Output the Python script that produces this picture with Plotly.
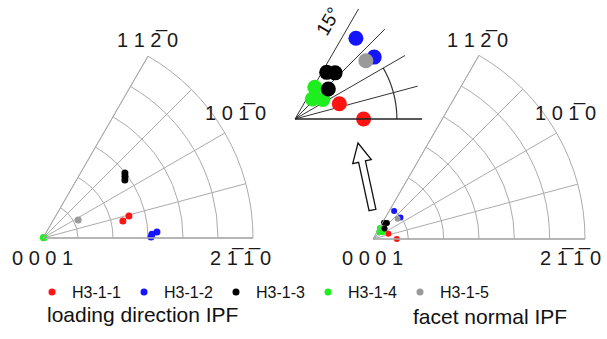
import numpy as np
import plotly.graph_objects as go

W, H = 607, 339
OFF = 0  # body margin removed via post_script

# ---------------- data ----------------
series_names = ["H3-1-1", "H3-1-2", "H3-1-3", "H3-1-4", "H3-1-5"]
series_colors = ["#ff1414", "#1414ff", "#000000", "#1eee1e", "#9a9a9a"]

# loading direction IPF (theta = azimuth deg, r = polar angle deg)
load_theta = {
    "H3-1-1": [12, 14.3],
    "H3-1-2": [0.5, 3, 2],
    "H3-1-3": [38.4, 37, 35.3],
    "H3-1-4": [20, 40],
    "H3-1-5": [27],
}
load_r = {
    "H3-1-1": [35, 38],
    "H3-1-2": [46.3, 48.9, 46.7],
    "H3-1-3": [44.8, 44, 43],
    "H3-1-4": [0.3, 0.3],
    "H3-1-5": [16.9],
}
# facet normal IPF
facet_theta = {
    "H3-1-1": [0, 19],
    "H3-1-2": [53, 38],
    "H3-1-3": [55.8, 49, 42],
    "H3-1-4": [58, 49, 35],
    "H3-1-5": [39.4],
}
facet_r = {
    "H3-1-1": [10.1, 6.9],
    "H3-1-2": [14.9, 14.8],
    "H3-1-3": [8.3, 9.0, 6.6],
    "H3-1-4": [5.5, 3.9, 5.0],
    "H3-1-5": [13.5],
}
draw_order = ["H3-1-1", "H3-1-2", "H3-1-4", "H3-1-3", "H3-1-5"]

grid_angles = [0, 15, 30, 45, 60]
grid_radii = [15, 30, 45, 60, 75, 90]
inset_arc_r = 15
inset_arc_span = [0, 30]

corner_labels = ["0 0 0 1", "2 1\u0305 1\u0305 0", "1 0 1\u0305 0", "1 1 2\u0305 0"]

FONT = "Liberation Sans, Arial, sans-serif"


def px(x, y):
    return (x - OFF) / W, 1 - (y - OFF) / H


fig = go.Figure()

for name in draw_order:
    i = series_names.index(name)
    c = series_colors[i]
    fig.add_trace(go.Scatterpolar(
        theta=load_theta[name], r=load_r[name], mode="markers", name=name,
        marker=dict(color=c, size=7, line=dict(width=0)), subplot="polar",
        legendgroup=name, showlegend=True, legendrank=i + 1, cliponaxis=False))
    fig.add_trace(go.Scatterpolar(
        theta=facet_theta[name], r=facet_r[name], mode="markers", name=name,
        marker=dict(color=c, size=6, line=dict(width=0)), subplot="polar2",
        legendgroup=name, showlegend=False, cliponaxis=False))
    fig.add_trace(go.Scatterpolar(
        theta=facet_theta[name], r=facet_r[name], mode="markers", name=name,
        marker=dict(color=c, size=15, line=dict(width=0)), subplot="polar3",
        legendgroup=name, showlegend=False, cliponaxis=False))

# inset arc at 15 deg
arc_t = np.linspace(inset_arc_span[0], inset_arc_span[1], 61)
fig.add_trace(go.Scatterpolar(theta=arc_t, r=np.full_like(arc_t, inset_arc_r),
                              mode="lines", line=dict(color="#333", width=1.2),
                              subplot="polar3", showlegend=False, hoverinfo="skip"))

grid_col = "#ababab"
main_polar = dict(
    sector=[0, 60], bgcolor="rgba(0,0,0,0)",
    radialaxis=dict(range=[0, 90], tickvals=grid_radii, showticklabels=False, ticks="",
                    showgrid=True, gridcolor=grid_col, gridwidth=1, showline=True,
                    linecolor=grid_col, linewidth=1, angle=0),
    angularaxis=dict(tickvals=grid_angles, showticklabels=False, ticks="", showgrid=True,
                     gridcolor=grid_col, gridwidth=1, showline=True, linecolor=grid_col,
                     linewidth=1, direction="counterclockwise", rotation=0),
)


def dom(ox, oy, R):
    x0, y0 = px(ox, oy)
    x1, y1 = px(ox + R, oy - R * np.sin(np.pi / 3))
    return dict(x=[x0, x1], y=[y0, y1])


fig.update_layout(
    polar=dict(main_polar, domain=dom(43, 238, 210)),
    polar2=dict(main_polar, domain=dom(373, 239, 212)),
    polar3=dict(
        sector=[0, 60], bgcolor="rgba(0,0,0,0)", domain=dom(295, 119, 127),
        radialaxis=dict(range=[0, 18.7], showticklabels=False, ticks="", showgrid=False,
                        showline=True, linecolor="#222", linewidth=1.5, angle=0),
        angularaxis=dict(tickvals=[15, 30, 45, 60], showticklabels=False, ticks="",
                         showgrid=True, gridcolor="#333", gridwidth=1, showline=False,
                         direction="counterclockwise", rotation=0),
    ),
)

# corner labels
label_font = dict(family=FONT, size=20, color="#1a1a1a")
for ox in (0, 330):
    for txt, (lx, ly) in zip(corner_labels, [(42, 258), (240, 258), (235, 113), (147, 40)]):
        x, y = px(lx + ox, ly)
        fig.add_annotation(x=x, y=y, xref="paper", yref="paper", text=txt, showarrow=False,
                           font=label_font, xanchor="center", yanchor="middle")

# 15 deg label
x, y = px(329, 21)
fig.add_annotation(x=x, y=y, xref="paper", yref="paper", text="15°", showarrow=False,
                   textangle=-60, xanchor="center", yanchor="middle", borderpad=0,
                   font=dict(family=FONT, size=19, color="#111"))

# titles
for txt, (tx, ty) in [("loading direction IPF", (142, 314)), ("facet normal IPF", (490, 316))]:
    x, y = px(tx, ty)
    fig.add_annotation(x=x, y=y, xref="paper", yref="paper", text=txt, showarrow=False,
                       xanchor="center", yanchor="middle",
                       font=dict(family=FONT, size=21, color="#111"))

# hollow arrow
T = np.array([372.5, 210.0])
Hd = np.array([358.0, 143.0])
u = (Hd - T) / np.linalg.norm(Hd - T)
p = np.array([-u[1], u[0]])
B = Hd - 19 * u
pts = [T + 3.5 * p, B + 3.5 * p, B + 9.5 * p, Hd, B - 9.5 * p, B - 3.5 * p, T - 3.5 * p]
path = "M " + " L ".join("%.4f,%.4f" % px(*q) for q in pts) + " Z"
fig.add_shape(type="path", path=path, xref="paper", yref="paper",
              line=dict(color="#111", width=1.3), fillcolor="white")

fig.update_layout(
    width=W, height=H, margin=dict(l=0, r=0, t=0, b=0),
    paper_bgcolor="white", plot_bgcolor="white",
    showlegend=True,
    legend=dict(orientation="h", x=px(32, 0)[0], y=px(0, 292)[1], xanchor="left",
                yanchor="middle", font=dict(family=FONT, size=16, color="#111"),
                entrywidth=47, entrywidthmode="pixels", itemwidth=30,
                bgcolor="rgba(0,0,0,0)", tracegroupgap=0),
)

fig.write_html("out.html", config={"displayModeBar": False},
               post_script="document.body.style.margin='0px';")
